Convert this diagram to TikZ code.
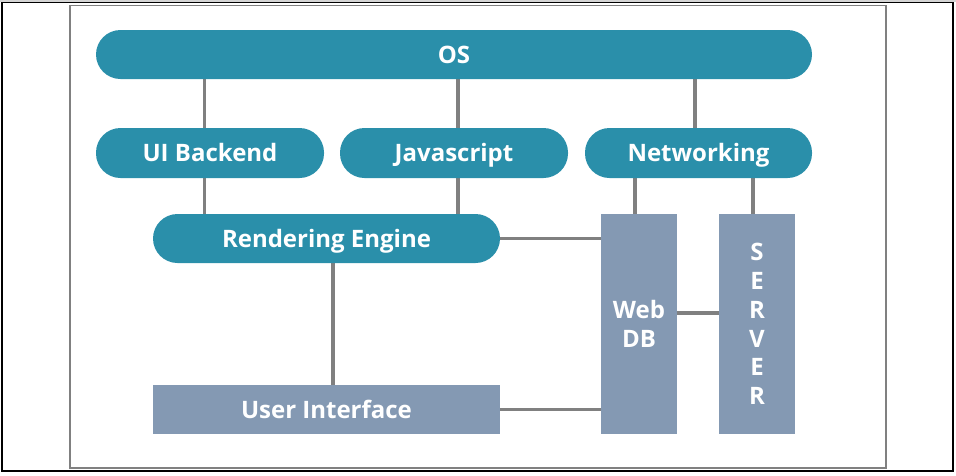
\documentclass[tikz,border=0pt]{standalone}
\usepackage{fontspec}
\setmainfont{Open Sans}
\usetikzlibrary{backgrounds}
\definecolor{tealbox}{HTML}{2A8FAA}
\definecolor{slate}{HTML}{8499B3}
\definecolor{conn}{HTML}{808080}
\definecolor{topband}{HTML}{D4D4D4}
\newcommand{\boxfont}{\fontsize{24pt}{29.5pt}\selectfont\bfseries}
\newcommand{\srvfont}{\fontsize{24pt}{28.7pt}\selectfont\bfseries}
\begin{document}
\begin{tikzpicture}[x=1pt,y=-1pt,
  pill/.style={fill=tealbox,rounded corners=24.5pt,inner sep=0pt,text=white,font=\boxfont,text height=17pt,text depth=0pt},
  slab/.style={fill=slate,inner sep=0pt,text=white,align=center,font=\boxfont},
  conline/.style={draw=conn,line width=3.6pt}]
\useasboundingbox (0,0) rectangle (956,475);
\fill[topband] (0,0) rectangle (956,2);
\draw[line width=1.2pt,black] (2,2.5) rectangle (953,471);
\draw[line width=1.5pt,conn] (70,5.5) rectangle (886,468);
\node[pill,minimum width=716pt,minimum height=49pt] (os) at (454,54.5) {OS};
\node[pill,minimum width=228pt,minimum height=50pt] (uib) at (210,153) {UI Backend};
\node[pill,minimum width=228pt,minimum height=50pt] (js) at (454,153) {Javascript};
\node[pill,minimum width=227pt,minimum height=50pt] (net) at (698.5,153) {Networking};
\node[pill,minimum width=347pt,minimum height=49pt] (re) at (326.5,238.5) {Rendering Engine};
\node[slab,minimum width=347pt,minimum height=49pt,text height=17pt,text depth=0pt] (ui) at (326.5,409.5) {User Interface};
\node[slab,minimum width=76pt,minimum height=220pt] (db) at (639,324) {Web\\DB};
\node[slab,font=\srvfont,minimum width=76pt,minimum height=220pt] (srv) at (757,324) {S\\E\\R\\V\\E\\R};
\begin{pgfonlayer}{background}
\draw[conline] ([xshift=-5.5pt]uib.north) -- ([xshift=-5.5pt]uib.north |- os.south);
\draw[conline] ([xshift=4pt]js.north) -- ([xshift=4pt]js.north |- os.south);
\draw[conline] ([xshift=-3.5pt]net.north) -- ([xshift=-3.5pt]net.north |- os.south);
\draw[conline] ([xshift=-5.5pt]uib.south) -- ([xshift=-5.5pt]uib.south |- re.north);
\draw[conline] ([xshift=4pt]js.south) -- ([xshift=4pt]js.south |- re.north);
\draw[conline] ([xshift=-4pt]db.north) -- ([xshift=-4pt]db.north |- net.south);
\draw[conline] ([xshift=-4pt]srv.north) -- ([xshift=-4pt]srv.north |- net.south);
\draw[conline] (re.east) -- (re.east -| db.west);
\draw[conline] (ui.east) -- (ui.east -| db.west);
\draw[conline] ([yshift=11pt]db.east) -- ([yshift=11pt]db.east -| srv.west);
\draw[conline] ([xshift=6.5pt]re.south) -- ([xshift=6.5pt]re.south |- ui.north);
\end{pgfonlayer}
\end{tikzpicture}
\end{document}
